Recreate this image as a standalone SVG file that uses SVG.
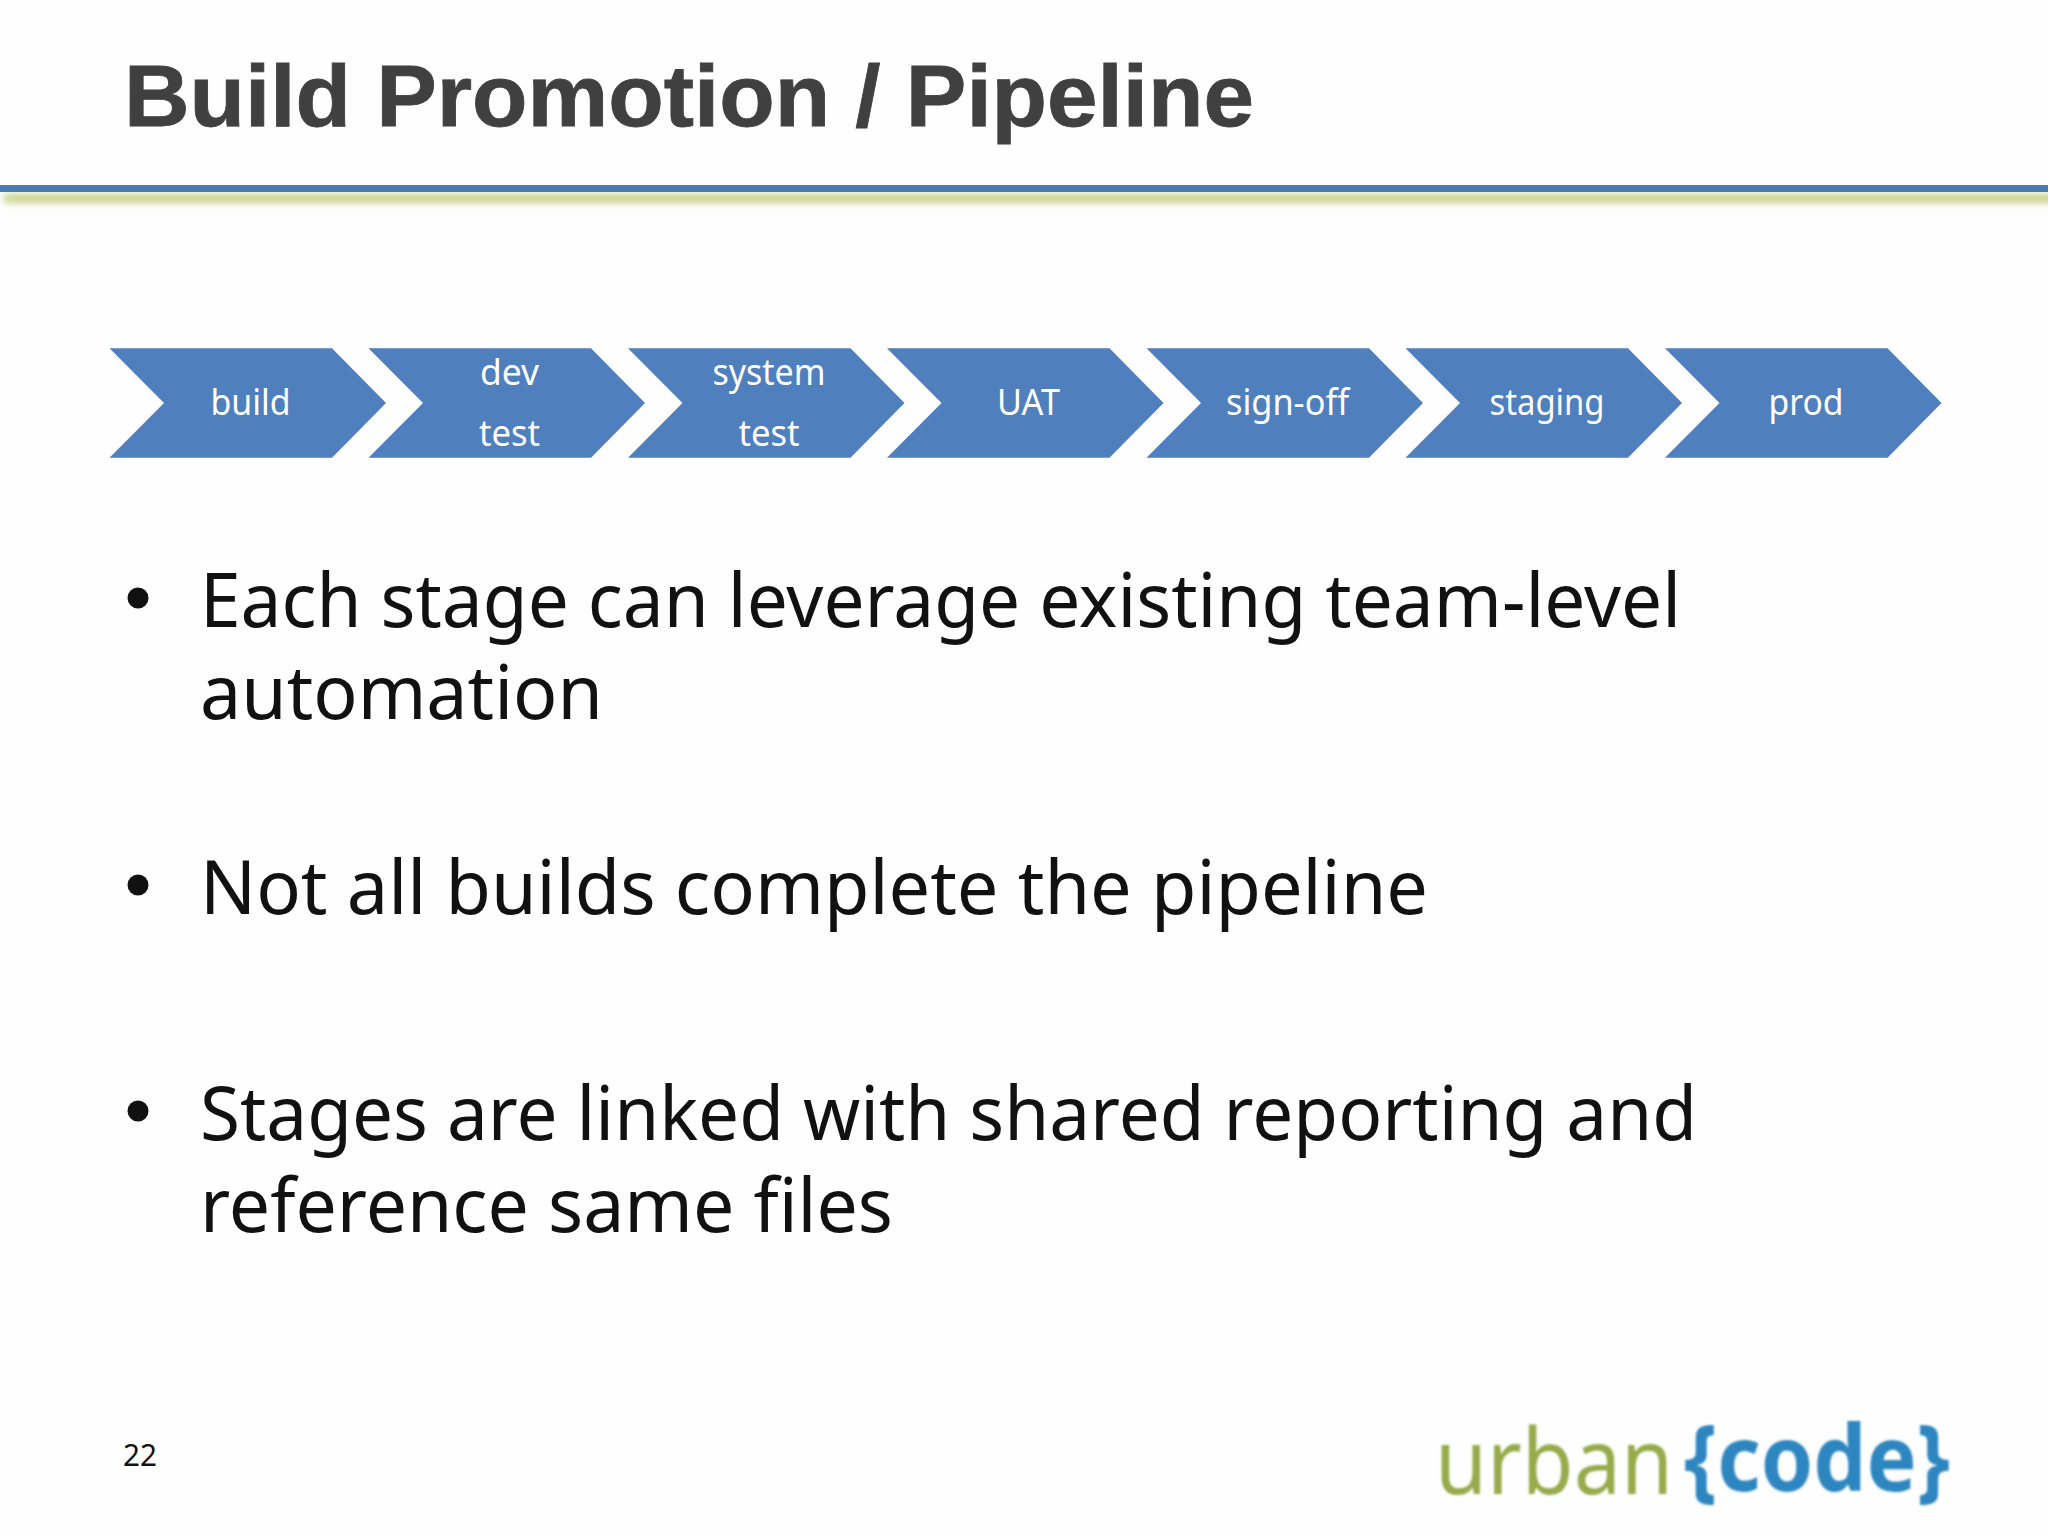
<svg xmlns="http://www.w3.org/2000/svg" width="2048" height="1536" viewBox="0 0 2048 1536">
<style>
text{font-family:"Noto Sans","Open Sans",sans-serif}
.lab{font-size:36px;fill:#fff;text-anchor:middle}
.bul{font-size:75px;fill:#111}
.chev{fill:#4f7fbc}
</style>
<defs>
<filter id="b" x="-2%" y="-300%" width="104%" height="700%"><feGaussianBlur stdDeviation="3.500"/></filter>
<filter id="s" x="-2%" y="-20%" width="104%" height="140%"><feGaussianBlur stdDeviation="0.800"/></filter>
<path id="c" class="chev" d="M0 0H222.500L276.500 54.700L222.500 109.400H0L54.500 54.700Z"/>
</defs>
<rect width="2048" height="1536" fill="#fefefe"/>
<g id="header">
<rect x="4" y="194" width="2060" height="9" fill="#c8d28a" filter="url(#b)"/>
<rect x="0" y="185" width="2048" height="7" fill="#4a7ab5"/>
<text x="124" y="126" font-size="88" font-weight="700" fill="#404040" stroke="#404040" stroke-width="0.800" style="font-family:'Liberation Sans',Arial,sans-serif" textLength="1130" lengthAdjust="spacingAndGlyphs">Build Promotion / Pipeline</text>
</g>
<g id="stage-build"><use href="#c" x="109.500" y="348.300"/><text class="lab" x="250.500" y="415" textLength="80" lengthAdjust="spacingAndGlyphs">build</text></g>
<g id="stage-dev-test"><use href="#c" x="368.500" y="348.300"/><text class="lab" x="509.500" y="385" textLength="59" lengthAdjust="spacingAndGlyphs">dev</text><text class="lab" x="509.500" y="446" textLength="61" lengthAdjust="spacingAndGlyphs">test</text></g>
<g id="stage-system-test"><use href="#c" x="628" y="348.300"/><text class="lab" x="769" y="385" textLength="113" lengthAdjust="spacingAndGlyphs">system</text><text class="lab" x="769" y="446" textLength="61" lengthAdjust="spacingAndGlyphs">test</text></g>
<g id="stage-uat"><use href="#c" x="887" y="348.300"/><text class="lab" x="1028.500" y="415" textLength="63" lengthAdjust="spacingAndGlyphs">UAT</text></g>
<g id="stage-sign-off"><use href="#c" x="1146.500" y="348.300"/><text class="lab" x="1287.500" y="415" textLength="123" lengthAdjust="spacingAndGlyphs">sign-off</text></g>
<g id="stage-staging"><use href="#c" x="1405.500" y="348.300"/><text class="lab" x="1547" y="415" textLength="115" lengthAdjust="spacingAndGlyphs">staging</text></g>
<g id="stage-prod"><use href="#c" x="1665" y="348.300"/><text class="lab" x="1806" y="415" textLength="75" lengthAdjust="spacingAndGlyphs">prod</text></g>
<g id="bullets">
<circle cx="138" cy="598" r="10.500" fill="#111"/>
<text class="bul" x="200" y="627" textLength="1481" lengthAdjust="spacingAndGlyphs">Each stage can leverage existing team-level</text>
<text class="bul" x="200" y="719" textLength="403" lengthAdjust="spacingAndGlyphs">automation</text>
<circle cx="138" cy="885" r="10.500" fill="#111"/>
<text class="bul" x="200" y="914" textLength="1228" lengthAdjust="spacingAndGlyphs">Not all builds complete the pipeline</text>
<circle cx="138" cy="1111" r="10.500" fill="#111"/>
<text class="bul" x="200" y="1140" textLength="1497" lengthAdjust="spacingAndGlyphs">Stages are linked with shared reporting and</text>
<text class="bul" x="200" y="1232" textLength="693" lengthAdjust="spacingAndGlyphs">reference same files</text>
</g>
<g id="footer">
<text x="123" y="1466" font-size="30" fill="#111" textLength="34" lengthAdjust="spacingAndGlyphs">22</text>
</g>
<g id="logo" filter="url(#s)">
<text x="1435" y="1494" font-size="92" fill="#98aa4c" textLength="238" lengthAdjust="spacingAndGlyphs">urban</text>
<text x="1684" y="1491" font-size="92" font-weight="700" fill="#2f86c0" textLength="266" lengthAdjust="spacingAndGlyphs">{code}</text>
</g>
</svg>
